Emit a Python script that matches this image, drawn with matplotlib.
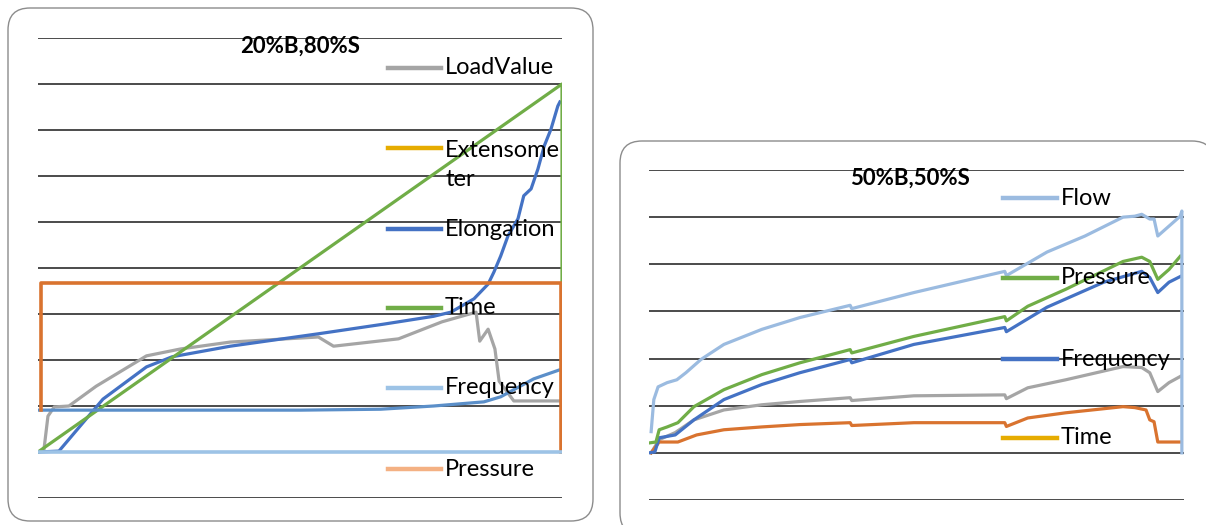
import matplotlib.pyplot as plt
from matplotlib.patches import FancyBboxPatch
from matplotlib.lines import Line2D
from matplotlib.transforms import IdentityTransform

plt.rcParams['font.family'] = ['Lato', 'DejaVu Sans']

# ---- left chart: 20%B,80%S ----
load_x = [0, 1.1, 1.9, 3.1, 5.9, 11.1, 20.7, 27.2, 36.7, 53.5, 56.4, 68.8, 77.1, 83.6, 84.3, 85.9, 87.2, 88.0, 90.8, 99.6]
load_y = [0, 0.02, 0.78, 0.98, 1.0, 1.43, 2.09, 2.24, 2.39, 2.50, 2.30, 2.46, 2.83, 3.04, 2.41, 2.67, 2.24, 1.54, 1.11, 1.11]

elong_x = [0, 4.0, 12.4, 20.7, 25.6, 36.7, 53.5, 66.0, 75.5, 78.8, 83.2, 85.9, 87.0, 88.3, 89.7,
           91.6, 92.7, 94.1, 95.4, 96.6, 97.9, 99.2, 99.6]
elong_y = [0, 0.02, 1.15, 1.85, 2.07, 2.30, 2.57, 2.78, 2.95, 3.04, 3.33, 3.65, 3.91, 4.26, 4.70,
           5.07, 5.57, 5.72, 6.15, 6.65, 7.02, 7.52, 7.61]

time_x = [0, 100, 100]
time_y = [0, 8, 0]

freq_x = [0, 50.1, 65.4, 75.5, 85.1, 88.3, 94.6, 99.4]
freq_y = [0.91, 0.91, 0.93, 1.0, 1.09, 1.20, 1.59, 1.78]

press_x = [0.5, 0.5, 99.8, 99.8]
press_y = [0.91, 3.67, 3.67, 0]

base_x = [0, 100]
base_y = [0, 0]

left_labels = ['LoadValue', 'Extensome\nter', 'Elongation', 'Time', 'Frequency', 'Pressure']
left_colors = ['#A5A5A5', '#E6AC00', '#4472C4', '#70AD47', '#9DC3E6', '#F4B183']

# ---- right chart: 50%B,50%S ----
flow_x = [0.4, 0.9, 1.7, 3.4, 5.2, 6.9, 9.7, 14.0, 21.1, 28.2, 37.6, 37.9, 49.5, 66.5, 66.8, 74.4, 81.5, 88.6, 90.8, 92.1, 93.6, 94.4, 95.1, 97.2, 99.3, 99.6, 99.6]
flow_y = [0.45, 1.13, 1.40, 1.49, 1.55, 1.70, 1.98, 2.30, 2.62, 2.87, 3.13, 3.06, 3.40, 3.85, 3.76, 4.26, 4.60, 5.00, 5.02, 5.06, 4.96, 4.96, 4.60, 4.81, 5.02, 5.13, 0]

pres2_x = [0, 1.3, 1.9, 3.4, 5.4, 8.4, 14.0, 21.1, 28.2, 37.6, 37.9, 49.5, 66.5, 66.8, 70.8, 77.9, 88.6, 92.1, 93.6, 95.1, 97.2, 99.3]
pres2_y = [0.21, 0.23, 0.49, 0.55, 0.64, 0.98, 1.34, 1.66, 1.91, 2.19, 2.12, 2.47, 2.89, 2.80, 3.11, 3.47, 4.06, 4.15, 4.06, 3.68, 3.89, 4.17]

freq2_x = [0, 1.1, 1.9, 4.9, 8.4, 14.0, 21.1, 28.2, 37.6, 37.9, 49.5, 66.5, 66.8, 74.4, 85.0, 92.1, 93.6, 95.1, 97.2, 99.3]
freq2_y = [0, 0.02, 0.32, 0.38, 0.70, 1.13, 1.45, 1.70, 1.98, 1.91, 2.30, 2.66, 2.57, 3.09, 3.62, 3.85, 3.72, 3.40, 3.62, 3.74]

gray2_x = [0.4, 1.9, 4.9, 8.4, 14.0, 21.1, 28.2, 37.6, 37.9, 49.5, 66.5, 66.8, 70.8, 77.9, 88.6, 92.1, 93.6, 95.1, 97.2, 99.3]
gray2_y = [0, 0.28, 0.43, 0.70, 0.91, 1.02, 1.09, 1.17, 1.11, 1.21, 1.23, 1.15, 1.38, 1.55, 1.83, 1.81, 1.70, 1.30, 1.49, 1.62]

orng2_x = [0.4, 1.9, 5.4, 8.9, 14.0, 21.1, 28.2, 37.6, 37.9, 49.5, 66.5, 66.8, 70.8, 77.9, 88.6, 90.8, 92.9, 93.6, 94.4, 95.1, 99.3]
orng2_y = [0, 0.23, 0.23, 0.38, 0.49, 0.55, 0.60, 0.64, 0.58, 0.64, 0.64, 0.56, 0.74, 0.85, 0.98, 0.96, 0.91, 0.70, 0.66, 0.23, 0.23]

right_labels = ['Flow', 'Pressure', 'Frequency', 'Time']
right_colors = ['#9BBBE0', '#70AD47', '#4472C4', '#E6AC00']

W, H = 1206, 525
fig = plt.figure(figsize=(W / 100, H / 100), dpi=100)


def rbox(x0, y0, x1, y1):
    # pixel box, y measured from top
    p = FancyBboxPatch((x0, H - y1), x1 - x0, y1 - y0,
                       boxstyle='round,pad=0,rounding_size=22',
                       transform=IdentityTransform(), fc='white', ec='#8c8c8c', lw=1.0, zorder=-5)
    fig.add_artist(p)


def setup(ax, ymin, ymax):
    ax.set_xlim(0, 100)
    ax.set_ylim(ymin, ymax)
    for s in ax.spines.values():
        s.set_visible(False)
    ax.set_xticks([])
    ax.set_yticks(range(ymin, ymax + 1))
    ax.tick_params(left=False, labelleft=False)
    ax.grid(axis='y', color='#1a1a1a', lw=1.1)
    ax.set_axisbelow(True)
    ax.patch.set_alpha(0)


def legend(entries, colors, x1, x2, tx, ys):
    for lab, c, y in zip(entries, colors, ys):
        fig.add_artist(Line2D([x1, x2], [H - y, H - y], color=c, lw=3.2,
                              transform=IdentityTransform(), zorder=1))
        if '\n' in lab:
            fig.text(tx / W, 1 - (y + 17) / H, lab, fontsize=17, va='center', ha='left',
                     linespacing=1.5, zorder=1)
        else:
            fig.text(tx / W, 1 - y / H, lab, fontsize=17, va='center', ha='left', zorder=1)


rbox(8, 8, 593, 521)
rbox(620, 141, 1214, 535)

lw = 2.3
ax1 = fig.add_axes([38 / W, 1 - 498 / H, 524 / W, 460 / H])
setup(ax1, -1, 9)
ax1.plot(load_x, load_y, color='#A5A5A5', lw=lw)
ax1.plot(elong_x, elong_y, color='#4472C4', lw=lw)
ax1.plot(time_x, time_y, color='#70AD47', lw=lw)
ax1.plot(freq_x, freq_y, color='#5B8FC9', lw=lw)
ax1.plot(press_x, press_y, color='#D9732F', lw=lw + 0.3)
ax1.plot(base_x, base_y, color='#9DC3E6', lw=lw + 0.3)
fig.text(300 / W, 1 - 46 / H, '20%B,80%S', fontsize=16, fontweight='bold', ha='center', va='center')

ax2 = fig.add_axes([649 / W, 1 - 500 / H, 535 / W, 330 / H])
setup(ax2, -1, 6)
ax2.plot(gray2_x, gray2_y, color='#A5A5A5', lw=lw)
ax2.plot(orng2_x, orng2_y, color='#D9732F', lw=lw)
ax2.plot(freq2_x, freq2_y, color='#4472C4', lw=lw)
ax2.plot(pres2_x, pres2_y, color='#70AD47', lw=lw)
ax2.plot(flow_x, flow_y, color='#9BBBE0', lw=lw)
fig.text(910 / W, 1 - 178 / H, '50%B,50%S', fontsize=16, fontweight='bold', ha='center', va='center')

legend(left_labels, left_colors, 388, 441, 445, [68, 148, 229, 308, 388, 469])
legend(right_labels, right_colors, 1003, 1057, 1061, [198, 278, 359, 438])

fig.savefig('out.png', dpi=100)
